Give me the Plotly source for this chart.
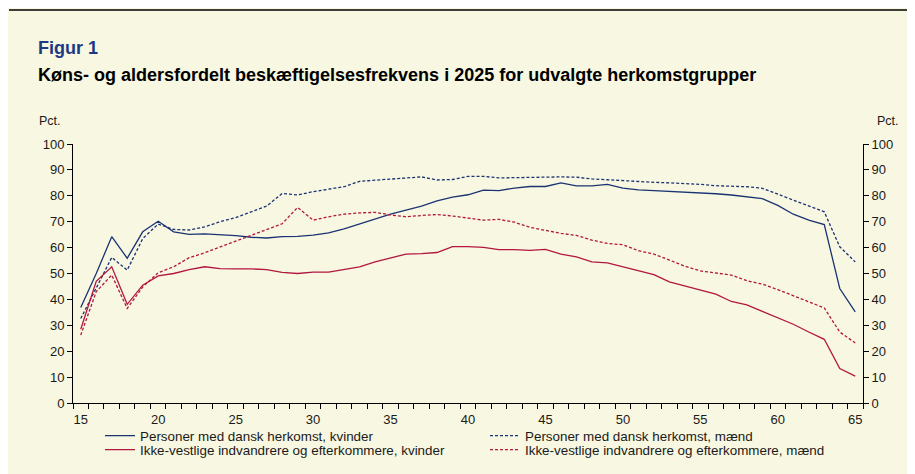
import plotly.graph_objects as go

ages = list(range(15, 66))

dansk_kvinder = [36.9, 50.0, 64.2, 55.9, 66.1, 70.2, 66.1, 65.1, 65.3, 65.0,
                 64.6, 64.0, 63.7, 64.2, 64.3, 64.8, 65.7, 67.2, 69.2, 71.0,
                 72.9, 74.5, 76.0, 78.0, 79.5, 80.4, 82.2, 82.0, 83.0, 83.6,
                 83.6, 85.0, 83.8, 83.8, 84.4, 83.0, 82.3, 82.0, 81.7, 81.4,
                 81.2, 80.8, 80.3, 79.6, 78.9, 76.3, 72.9, 70.6, 68.9, 44.2, 35.2]

dansk_maend = [32.6, 44.5, 56.2, 51.3, 63.5, 69.1, 67.0, 66.8, 68.0, 70.0,
               71.6, 73.8, 76.0, 80.9, 80.3, 81.6, 82.6, 83.5, 85.6, 86.0,
               86.5, 87.0, 87.3, 86.1, 86.3, 87.5, 87.5, 86.9, 87.0, 87.2,
               87.3, 87.3, 87.2, 86.5, 86.2, 85.8, 85.4, 85.2, 85.0, 84.8,
               84.4, 83.9, 83.8, 83.5, 82.9, 80.7, 78.4, 76.0, 73.8, 60.3, 54.5]

ikkevest_kvinder = [28.5, 47.0, 52.6, 38.1, 45.5, 49.1, 50.0, 51.5, 52.6, 51.9,
                    51.8, 51.8, 51.5, 50.4, 50.0, 50.5, 50.5, 51.5, 52.6, 54.5,
                    55.9, 57.5, 57.7, 58.1, 60.4, 60.4, 60.1, 59.2, 59.2, 58.9,
                    59.3, 57.5, 56.4, 54.5, 54.1, 52.6, 51.0, 49.6, 46.8, 45.1,
                    43.6, 42.0, 39.2, 37.9, 35.4, 33.0, 30.4, 27.4, 24.6, 13.3, 10.4]

ikkevest_maend = [26.2, 43.0, 49.4, 36.5, 44.8, 50.3, 52.6, 56.1, 58.0, 60.3,
                  62.5, 64.8, 67.2, 69.2, 75.5, 70.6, 71.9, 72.9, 73.4, 73.6,
                  72.6, 71.9, 72.4, 72.8, 72.2, 71.3, 70.6, 70.9, 69.8, 67.8,
                  66.6, 65.5, 64.7, 62.9, 61.6, 61.1, 58.8, 57.5, 55.2, 52.8,
                  51.0, 50.3, 49.4, 47.2, 45.9, 43.8, 41.4, 38.9, 36.7, 27.4, 23.2]

series_names = [
    "Personer med dansk herkomst, kvinder",
    "Personer med dansk herkomst, mænd",
    "Ikke-vestlige indvandrere og efterkommere, kvinder",
    "Ikke-vestlige indvandrere og efterkommere, mænd",
]

x_ticks = [15, 20, 25, 30, 35, 40, 45, 50, 55, 60, 65]
y_ticks = [0, 10, 20, 30, 40, 50, 60, 70, 80, 90, 100]

BLUE = "#1B3373"
RED = "#B3163F"
BG = "#F8F7E1"
FONT = "Liberation Sans, Arial, sans-serif"

# page body adds an 8px offset; work in screen coordinates and convert
OFF = 8
W, H = 915 - OFF, 474 - OFF
ML, MT = 73 - OFF, 144 - OFF
MR = W - (863 - OFF)
MB = H - (403 - OFF)
PW, PH = W - ML - MR, H - MT - MB


def px(x):
    return (x - OFF - ML) / PW


def py(y):
    return (MT + PH - (y - OFF)) / PH


fig = go.Figure()
fig.add_trace(go.Scatter(x=ages, y=dansk_kvinder, name=series_names[0], mode="lines",
                         line=dict(color=BLUE, width=1.3), legend="legend"))
fig.add_trace(go.Scatter(x=ages, y=dansk_maend, name=series_names[1], mode="lines",
                         line=dict(color=BLUE, width=1.3, dash="3px,2px"), legend="legend"))
fig.add_trace(go.Scatter(x=ages, y=ikkevest_kvinder, name=series_names[2], mode="lines",
                         line=dict(color=RED, width=1.3), legend="legend2"))
fig.add_trace(go.Scatter(x=ages, y=ikkevest_maend, name=series_names[3], mode="lines",
                         line=dict(color=RED, width=1.3, dash="3px,2px"), yaxis="y2",
                         legend="legend2"))

axis_font = dict(family=FONT, size=13, color="#1a1a1a")
legend_common = dict(
    orientation="h",
    x=px(100), xanchor="left",
    yanchor="middle",
    entrywidth=340, entrywidthmode="pixels",
    font=dict(family=FONT, size=13.4, color="#1a1a1a"),
    bgcolor="rgba(0,0,0,0)",
)

fig.update_layout(
    width=W, height=H,
    margin=dict(l=ML, r=MR, t=MT, b=MB, pad=0, autoexpand=False),
    paper_bgcolor=BG,
    plot_bgcolor=BG,
    font=dict(family=FONT, size=13, color="#1a1a1a"),
    showlegend=True,
    legend=dict(legend_common, y=py(436)),
    legend2=dict(legend_common, y=py(450)),
    xaxis=dict(
        range=[14.5, 65.5],
        tickmode="array", tickvals=x_ticks, ticktext=[str(v) for v in x_ticks],
        ticks="outside", ticklen=0, ticklabelstandoff=4,
        minor=dict(tickmode="array", tickvals=[a - 0.5 for a in ages] + [65.5],
                   ticks="outside", ticklen=5, tickcolor="black", showgrid=False),
        showline=True, linecolor="black", linewidth=1,
        showgrid=False, zeroline=False,
        tickfont=axis_font,
    ),
    yaxis=dict(
        range=[0, 100],
        tickmode="array", tickvals=y_ticks,
        ticks="outside", ticklen=5, tickcolor="black",
        showline=True, linecolor="black", linewidth=1,
        showgrid=False, zeroline=False,
        tickfont=axis_font,
    ),
    yaxis2=dict(
        range=[0, 100], overlaying="y", side="right",
        tickmode="array", tickvals=y_ticks,
        ticks="outside", ticklen=5, tickcolor="black",
        showline=True, linecolor="black", linewidth=1,
        showgrid=False, zeroline=False,
        tickfont=axis_font,
    ),
)

# top rule
fig.add_shape(type="line", xref="paper", yref="paper",
              x0=px(9), x1=px(915), y0=py(10), y1=py(10),
              line=dict(color="black", width=1.5))

fig.add_annotation(text="<b>Figur 1</b>", xref="paper", yref="paper",
                   x=px(36), y=py(48), xanchor="left", yanchor="middle", showarrow=False,
                   font=dict(family=FONT, size=18, color="#1C3A84"))
fig.add_annotation(text="<b>Køns- og aldersfordelt beskæftigelsesfrekvens i 2025 for udvalgte herkomstgrupper</b>",
                   xref="paper", yref="paper",
                   x=px(36), y=py(75), xanchor="left", yanchor="middle", showarrow=False,
                   font=dict(family=FONT, size=18, color="black"))
fig.add_annotation(text="Pct.", xref="paper", yref="paper",
                   x=px(37), y=py(121), xanchor="left", yanchor="middle", showarrow=False,
                   font=dict(family=FONT, size=12.5, color="#1a1a1a"))
fig.add_annotation(text="Pct.", xref="paper", yref="paper",
                   x=px(875), y=py(121), xanchor="left", yanchor="middle", showarrow=False,
                   font=dict(family=FONT, size=12.5, color="#1a1a1a"))

fig.write_html("out.html")
